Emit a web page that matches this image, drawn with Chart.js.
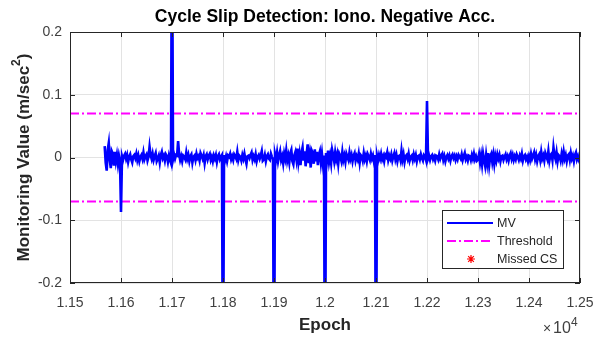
<!DOCTYPE html>
<html>
<head>
<meta charset="utf-8">
<script src="https://cdn.jsdelivr.net/npm/chart.js@4.4.1/dist/chart.umd.min.js"></script>
<style>
  html, body { margin: 0; padding: 0; background: #fff; }
</style>
</head>
<body>
<canvas id="csChart" width="598" height="341"></canvas>
<script>
// Epoch grid of the monitoring value samples
const EPOCH_START = 11568;
const EPOCH_STEP = 2;

// Monitoring value (m/sec^2), one row per 100 epochs
const mvValues = [
    0.018, -0.008, -0.021, 0.012, 0.023, -0.004, -0.017, 0.010, 0.006, -0.013, 0.009, -0.006, 0.004, -0.010, 0.003, -0.005,
    // 11600
    -0.087, 0.002, -0.004, 0.003, 0.006, -0.002, 0.004, -0.007, 0.001, 0.005,
    -0.003, -0.008, 0.002, 0.004, -0.001, 0.006, -0.004, 0.003, -0.006, 0.001,
    0.004, -0.002, 0.008, -0.003, 0.002, 0.005, -0.005, 0.001, 0.017, 0.004,
    -0.002, 0.006, -0.004, 0.002, 0.007, -0.006, -0.002, 0.003, -0.008, 0.004,
    0.009, -0.001, 0.003, -0.005, 0.005, 0.002, -0.007, 0.003, -0.004, -0.009,
    // 11700
    0.42, -0.003, 0.005, -0.002, 0.004, 0.003, 0.026, 0.005, -0.004, 0.002,
    -0.006, 0.003, 0.001, -0.003, 0.008, -0.002, 0.004, -0.006, 0.002, 0.005,
    -0.008, 0.001, 0.003, -0.004, 0.006, -0.001, 0.002, -0.005, 0.007, 0.003,
    -0.002, 0.004, -0.009, 0.002, 0.005, -0.003, 0.003, 0.006, -0.004, 0.001,
    -0.006, 0.003, -0.002, 0.004, -0.007, 0.002, 0.005, -0.003, 0.001, 0.004,
    // 11800
    -0.42, 0.004, -0.005, 0.002, -0.006, 0.003, 0.001, 0.006, -0.003, 0.002,
    -0.004, 0.005, 0.002, -0.002, 0.009, -0.004, 0.003, 0.001, -0.005, 0.004,
    -0.002, 0.006, -0.003, -0.010, 0.002, 0.003, -0.001, 0.004, 0.008, -0.004,
    0.002, -0.003, 0.005, -0.006, 0.001, 0.004, -0.002, 0.003, 0.010, -0.005,
    -0.003, 0.004, -0.006, 0.002, 0.005, -0.002, -0.004, 0.006, 0.001, -0.003,
    // 11900
    -0.42, 0.005, -0.003, 0.008, -0.006, 0.003, 0.010, -0.004, 0.002, -0.009,
    0.006, -0.002, 0.011, -0.005, 0.003, -0.008, 0.007, 0.012, -0.006, -0.011,
    0.004, 0.009, -0.003, 0.014, -0.007, 0.005, -0.012, 0.008, 0.016, -0.005,
    0.010, -0.014, 0.006, 0.021, -0.009, 0.004, -0.016, 0.011, 0.007, -0.010,
    0.013, -0.006, 0.009, -0.012, 0.004, 0.010, -0.008, 0.006, -0.011, 0.003,
    // 12000
    -0.42, 0.007, -0.004, 0.011, -0.007, 0.003, -0.009, 0.012, 0.004, -0.006,
    0.008, -0.003, 0.005, -0.010, 0.006, 0.002, -0.005, 0.009, -0.004, 0.003,
    -0.007, 0.006, 0.001, -0.004, 0.008, -0.002, 0.004, -0.006, 0.003, 0.007,
    -0.005, 0.002, -0.003, 0.006, -0.008, 0.004, 0.002, -0.005, 0.007, -0.003,
    0.003, -0.006, 0.005, 0.001, -0.004, 0.006, -0.002, 0.003, -0.007, 0.004,
    // 12100
    -0.42, 0.003, -0.005, 0.004, -0.002, 0.006, -0.003, 0.002, -0.006, 0.004,
    0.001, 0.008, -0.004, 0.003, -0.002, 0.005, -0.005, 0.002, 0.007, -0.003,
    0.004, -0.006, 0.002, 0.003, -0.004, 0.011, -0.003, 0.005, -0.007, 0.002,
    0.004, -0.002, 0.006, -0.005, 0.001, 0.003, -0.004, 0.005, -0.002, 0.004,
    -0.006, 0.002, 0.003, -0.003, 0.005, -0.001, -0.005, 0.004, 0.002, -0.004,
    // 12200
    0.09, -0.002, 0.003, -0.004, 0.002, 0.004, -0.003, 0.001, -0.005, 0.003,
    0.002, -0.003, 0.005, -0.002, 0.003, 0.006, -0.004, 0.002, -0.006, 0.001,
    0.004, -0.002, 0.003, -0.005, 0.002, 0.005, -0.001, 0.003, -0.004, 0.002,
    -0.003, 0.004, 0.001, -0.002, 0.005, -0.004, 0.002, 0.007, -0.003, 0.001,
    -0.005, 0.003, 0.002, -0.004, 0.004, -0.002, 0.006, -0.003, 0.002, -0.005,
    // 12300
    -0.003, 0.005, -0.008, 0.003, -0.011, 0.006, -0.004, -0.013, 0.004, -0.009,
    0.007, -0.012, 0.002, 0.006, -0.007, 0.004, -0.010, 0.003, -0.005, 0.005,
    -0.002, 0.004, -0.006, 0.002, 0.003, -0.004, 0.001, 0.005, -0.003, 0.002,
    -0.005, 0.003, 0.007, -0.002, 0.004, -0.004, 0.002, -0.003, 0.005, 0.001,
    -0.004, 0.003, -0.002, 0.006, -0.005, 0.002, 0.004, -0.003, 0.001, -0.006,
    // 12400
    0.002, -0.004, 0.006, -0.002, 0.003, 0.008, -0.003, 0.004, -0.006, 0.002,
    0.005, -0.004, 0.009, -0.002, 0.003, -0.005, 0.007, 0.002, -0.003, 0.010,
    -0.005, 0.004, 0.006, -0.004, 0.016, 0.003, -0.003, 0.008, -0.006, 0.004,
    0.002, -0.005, 0.006, -0.003, 0.009, -0.002, 0.004, -0.006, 0.003, 0.005,
    -0.004, 0.007, -0.002, 0.003, -0.006, 0.004, 0.008, -0.003, 0.002, -0.005,
    // 12500
    -0.009
];

// Detection threshold (m/sec^2) and its epoch span
const THRESHOLD = 0.07;
const thresholdEpochs = [11500, 12500];

// Missed cycle slips (none in this run)
const missedEpochs = [];
const missedValues = [];

// Axis limits and ticks
const X_MIN = 11500, X_MAX = 12500, X_STEP = 100;
const Y_MIN = -0.2, Y_MAX = 0.2, Y_STEP = 0.1;

const AXIS_COLOR = '#262626';
const FONT = '"Liberation Sans", Arial, Helvetica, sans-serif';

const mvPoints = mvValues.map((v, i) => ({ x: EPOCH_START + i * EPOCH_STEP, y: v }));
const upperPoints = thresholdEpochs.map(e => ({ x: e, y: THRESHOLD }));
const lowerPoints = thresholdEpochs.map(e => ({ x: e, y: -THRESHOLD }));
const missedPoints = missedEpochs.map((e, i) => ({ x: e, y: missedValues[i] }));

// Box, inward ticks, title, labels and legend in MATLAB style
const matlabFrame = {
    id: 'matlabFrame',
    afterDraw(chart) {
        const { ctx, chartArea: a, scales: { x, y } } = chart;
        ctx.save();

        ctx.strokeStyle = AXIS_COLOR;
        ctx.lineWidth = 1;
        ctx.beginPath();
        x.ticks.forEach(t => {
            const px = Math.round(x.getPixelForValue(t.value)) + 0.5;
            ctx.moveTo(px, a.bottom); ctx.lineTo(px, a.bottom - 5);
            ctx.moveTo(px, a.top); ctx.lineTo(px, a.top + 5);
        });
        y.ticks.forEach(t => {
            const py = Math.round(y.getPixelForValue(t.value)) + 0.5;
            ctx.moveTo(a.left, py); ctx.lineTo(a.left + 5, py);
            ctx.moveTo(a.right, py); ctx.lineTo(a.right - 5, py);
        });
        ctx.stroke();
        ctx.strokeRect(a.left + 0.5, a.top + 0.5, a.right - a.left - 1, a.bottom - a.top - 1);

        // title
        ctx.fillStyle = '#000';
        ctx.font = 'bold 17.5px ' + FONT;
        ctx.textAlign = 'center';
        ctx.textBaseline = 'middle';
        ctx.fillText('Cycle Slip Detection: Iono. Negative Acc.', (a.left + a.right) / 2, 17);

        // x label
        ctx.fillStyle = AXIS_COLOR;
        ctx.font = 'bold 17px ' + FONT;
        ctx.fillText('Epoch', (a.left + a.right) / 2, 325);

        // y label with superscript
        ctx.save();
        ctx.translate(24, (a.top + a.bottom) / 2);
        ctx.rotate(-Math.PI / 2);
        ctx.textAlign = 'left';
        ctx.textBaseline = 'middle';
        const main = 'Monitoring Value (m/sec';
        ctx.font = 'bold 17px ' + FONT;
        const wMain = ctx.measureText(main).width;
        const wClose = ctx.measureText(')').width;
        ctx.font = 'bold 12px ' + FONT;
        const wSup = ctx.measureText('2').width;
        let cx = -(wMain + wSup + wClose) / 2;
        ctx.font = 'bold 17px ' + FONT;
        ctx.fillText(main, cx, 0);
        cx += wMain;
        ctx.font = 'bold 12px ' + FONT;
        ctx.fillText('2', cx, -7);
        cx += wSup;
        ctx.font = 'bold 17px ' + FONT;
        ctx.fillText(')', cx, 0);
        ctx.restore();

        // x10^4 exponent
        ctx.textAlign = 'left';
        ctx.textBaseline = 'alphabetic';
        ctx.fillStyle = '#404040';
        ctx.font = '14px ' + FONT;
        ctx.fillText('\u00d7', 543, 333);
        ctx.font = '16px ' + FONT;
        ctx.fillText('10', 553, 333);
        ctx.font = '12px ' + FONT;
        ctx.fillText('4', 571, 326);

        // legend
        const lx = 442, ly = 210, lw = 121, lh = 58;
        ctx.fillStyle = '#fff';
        ctx.fillRect(lx, ly, lw, lh);
        ctx.strokeStyle = AXIS_COLOR;
        ctx.lineWidth = 1;
        ctx.strokeRect(lx + 0.5, ly + 0.5, lw, lh);
        ctx.font = '12.5px ' + FONT;
        ctx.textBaseline = 'middle';
        const rows = [223, 241, 259];
        chart.data.datasets.filter(d => d.label).forEach((d, i) => {
            const ry = rows[i];
            ctx.strokeStyle = d.borderColor;
            ctx.lineWidth = Math.min(d.borderWidth || 1, 2);
            if (d.pointStyle === 'star') {
                ctx.lineWidth = 1.2;
                ctx.beginPath();
                const r = 4, sx = 471;
                for (let k = 0; k < 4; k++) {
                    const ang = k * Math.PI / 4;
                    ctx.moveTo(sx - r * Math.cos(ang), ry - r * Math.sin(ang));
                    ctx.lineTo(sx + r * Math.cos(ang), ry + r * Math.sin(ang));
                }
                ctx.stroke();
            } else {
                ctx.setLineDash(d.borderDash || []);
                ctx.beginPath();
                ctx.moveTo(447, ry);
                ctx.lineTo(493, ry);
                ctx.stroke();
                ctx.setLineDash([]);
            }
            ctx.fillStyle = AXIS_COLOR;
            ctx.fillText(d.label, 497, ry + 1);
        });

        ctx.restore();
    }
};

new Chart(document.getElementById('csChart'), {
    type: 'line',
    data: {
        datasets: [
            {
                label: 'MV',
                data: mvPoints,
                borderColor: '#0000ff',
                borderWidth: 2.6,
                pointRadius: 0,
                tension: 0,
                clip: 0
            },
            {
                label: 'Threshold',
                data: upperPoints,
                borderColor: '#ff00ff',
                borderWidth: 2,
                borderDash: [9, 3, 2, 3],
                pointRadius: 0,
                clip: 0
            },
            {
                data: lowerPoints,
                borderColor: '#ff00ff',
                borderWidth: 2,
                borderDash: [9, 3, 2, 3],
                pointRadius: 0,
                clip: 0
            },
            {
                label: 'Missed CS',
                data: missedPoints,
                borderColor: '#ff0000',
                showLine: false,
                pointStyle: 'star',
                pointRadius: 5
            }
        ]
    },
    options: {
        responsive: false,
        animation: false,
        events: [],
        layout: { padding: { top: 32, right: 18, left: 0, bottom: 0 } },
        plugins: {
            legend: { display: false },
            tooltip: { enabled: false }
        },
        scales: {
            x: {
                type: 'linear',
                min: X_MIN,
                max: X_MAX,
                afterFit: s => { s.height = 58; s.paddingLeft = 0; s.paddingRight = 0; },
                grid: { color: '#e3e3e3', drawTicks: false },
                border: { display: false },
                ticks: {
                    stepSize: X_STEP,
                    padding: 12,
                    color: '#404040',
                    font: { family: FONT, size: 14 },
                    maxRotation: 0,
                    // MATLAB drops trailing zeros: 1.2 rather than 1.20
                    callback: v => String(Number((v / 1e4).toFixed(4)))
                }
            },
            y: {
                min: Y_MIN,
                max: Y_MAX,
                afterFit: s => { s.width = 70; },
                grid: { color: '#e3e3e3', drawTicks: false },
                border: { display: false },
                ticks: {
                    stepSize: Y_STEP,
                    padding: 8,
                    color: '#404040',
                    font: { family: FONT, size: 14 },
                    callback: v => {
                        const r = Math.round(v * 10) / 10;
                        return r === 0 ? '0' : String(r);
                    }
                }
            }
        }
    },
    plugins: [matlabFrame]
});
</script>
</body>
</html>
